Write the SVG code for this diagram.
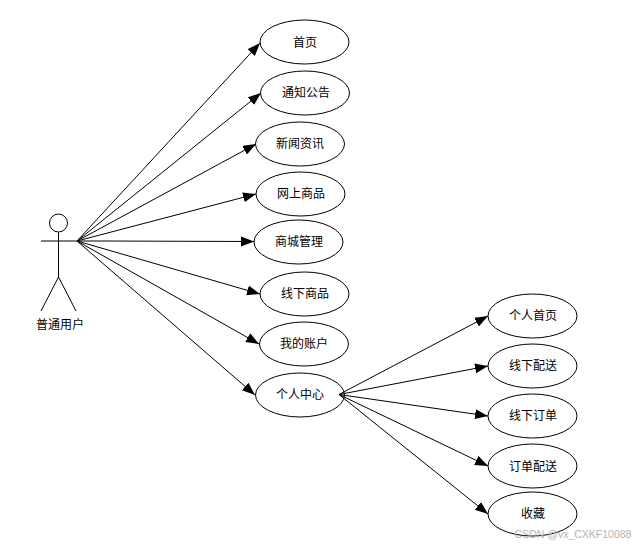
<svg xmlns="http://www.w3.org/2000/svg" width="639" height="546" viewBox="0 0 639 546">
<style>
.n{fill:#fff;stroke:#000;stroke-width:1}
.c{fill:none;stroke:#000;stroke-width:1;marker-end:url(#a)}
.s{fill:none;stroke:#000;stroke-width:1}
text{font-family:"Noto Sans CJK SC","Liberation Sans",sans-serif;font-size:12px;fill:#000;text-anchor:middle}
</style>
<defs><marker id="a" markerUnits="userSpaceOnUse" markerWidth="14" markerHeight="12" refX="13" refY="5" orient="auto"><path d="M0 0L13 5L0 10Z" fill="#000"/></marker></defs>
<rect width="639" height="546" fill="#fff"/>
<g id="actor">
<circle class="s" cx="58.500" cy="223" r="9"/>
<line class="s" x1="58.500" y1="232" x2="58.500" y2="277"/>
<line class="s" x1="41" y1="241" x2="77" y2="241"/>
<line class="s" x1="58.500" y1="277" x2="41" y2="311"/>
<line class="s" x1="58.500" y1="277" x2="76" y2="311"/>
<text x="60" y="329">普通用户</text>
</g>
<g id="n1"><ellipse class="n" cx="304.500" cy="42" rx="44.500" ry="22"/><text x="305" y="47">首页</text></g>
<g id="n2"><ellipse class="n" cx="305" cy="93" rx="44.500" ry="22"/><text x="306" y="97">通知公告</text></g>
<g id="n3"><ellipse class="n" cx="300" cy="144" rx="44.500" ry="22"/><text x="300" y="148">新闻资讯</text></g>
<g id="n4"><ellipse class="n" cx="300.500" cy="194" rx="44.500" ry="22"/><text x="301" y="198">网上商品</text></g>
<g id="n5"><ellipse class="n" cx="298.500" cy="242" rx="44.500" ry="22"/><text x="299" y="246">商城管理</text></g>
<g id="n6"><ellipse class="n" cx="304.500" cy="294" rx="44.500" ry="22"/><text x="305" y="298">线下商品</text></g>
<g id="n7"><ellipse class="n" cx="304" cy="344" rx="44.500" ry="22"/><text x="304" y="348">我的账户</text></g>
<g id="n8"><ellipse class="n" cx="300" cy="395" rx="44.500" ry="22"/><text x="300" y="399">个人中心</text></g>
<g id="n9"><ellipse class="n" cx="532.500" cy="316" rx="44.500" ry="22"/><text x="533" y="320">个人首页</text></g>
<g id="n10"><ellipse class="n" cx="532.500" cy="366" rx="44.500" ry="22"/><text x="533" y="370">线下配送</text></g>
<g id="n11"><ellipse class="n" cx="532.500" cy="416" rx="44.500" ry="22"/><text x="533" y="420">线下订单</text></g>
<g id="n12"><ellipse class="n" cx="532.500" cy="466" rx="44.500" ry="22"/><text x="533" y="471">订单配送</text></g>
<g id="n13"><ellipse class="n" cx="532.500" cy="514" rx="44.500" ry="22"/><text x="533" y="518">收藏</text></g>
<g id="connectors">
<line class="c" x1="77" y1="241" x2="260" y2="43"/>
<line class="c" x1="77" y1="241" x2="261" y2="93"/>
<line class="c" x1="77" y1="241" x2="256" y2="144"/>
<line class="c" x1="77" y1="241" x2="256" y2="194"/>
<path class="c" d="M77 241L104 241L254 241.500"/>
<line class="c" x1="77" y1="241" x2="260" y2="294"/>
<line class="c" x1="77" y1="241" x2="259" y2="344"/>
<line class="c" x1="77" y1="241" x2="255" y2="395"/>
<line class="c" x1="339" y1="394.500" x2="488" y2="316"/>
<line class="c" x1="339" y1="394.500" x2="488" y2="366"/>
<line class="c" x1="339" y1="394.500" x2="488" y2="416"/>
<line class="c" x1="339" y1="394.500" x2="488" y2="466"/>
<line class="c" x1="339" y1="394.500" x2="488" y2="514"/>
</g>
<text x="573" y="538" style="font-family:'Liberation Sans',sans-serif;font-size:10.500px;fill:#b4b4b4">CSDN @vx_CXKF10088</text>
</svg>
